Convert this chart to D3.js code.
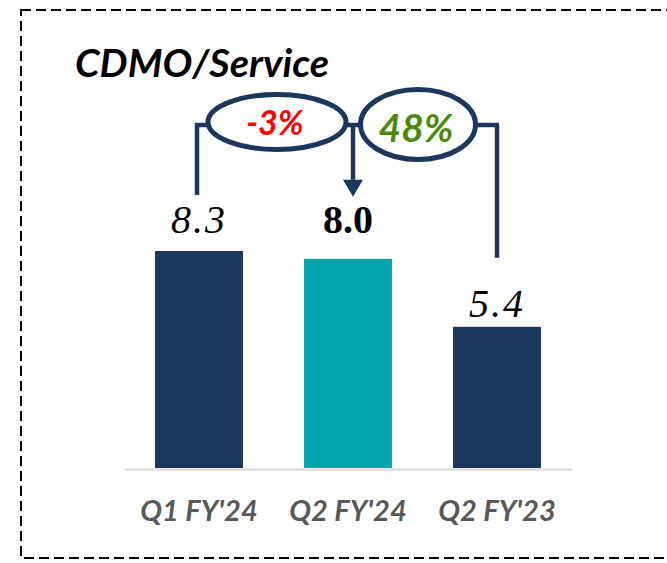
<!DOCTYPE html>
<html>
<head>
<meta charset="utf-8">
<script src="https://cdn.jsdelivr.net/npm/d3@7"></script>
<style>
  html, body { margin: 0; padding: 0; background: #ffffff; }
  svg { display: block; }
</style>
</head>
<body>
<svg id="chart" width="667" height="563"></svg>
<script>
// ---- data ----
const categories = ["Q1 FY'24", "Q2 FY'24", "Q2 FY'23"];
const values = [8.3, 8.0, 5.4];
const valueLabels = ["8.3", "8.0", "5.4"];
const changeLabels = ["-3%", "48%"];
const title = "CDMO/Service";

// ---- styles ----
const barColors = ["#1b375e", "#00a6ad", "#1b375e"];
const labelItalic = [true, false, true];
const labelBold = [false, true, false];
const changeColors = ["#ff0000", "#4d8a0c"];
const navy = "#1b375e";

const svg = d3.select("#chart");

// border (dashed, right edge off-canvas)
svg.append("rect")
  .attr("x", 21).attr("y", 10)
  .attr("width", 700).attr("height", 548)
  .attr("fill", "none")
  .attr("stroke", "#000")
  .attr("stroke-width", 2)
  .attr("stroke-dasharray", "10,5");

// scales
const x = d3.scaleBand()
  .domain(categories)
  .range([124.5, 571.5])
  .paddingInner(0.41)
  .paddingOuter(0.205);

const y = d3.scaleLinear()
  .domain([0, 8.3])
  .range([468, 251]);

// title
svg.append("text")
  .attr("x", 75).attr("y", 77)
  .attr("font-family", "Lato, 'Open Sans', sans-serif")
  .attr("font-weight", "bold")
  .attr("font-style", "italic")
  .attr("font-size", 39)
  .attr("textLength", 254)
  .attr("lengthAdjust", "spacingAndGlyphs")
  .attr("fill", "#000")
  .text(title);

// bars
svg.append("g").selectAll("rect")
  .data(values)
  .join("rect")
  .attr("x", (d, i) => x(categories[i]))
  .attr("y", d => y(d))
  .attr("width", x.bandwidth())
  .attr("height", d => y(0) - y(d))
  .attr("fill", (d, i) => barColors[i]);

// baseline axis
const xAxis = d3.axisBottom(x).tickSize(0).tickPadding(0);
const axisG = svg.append("g")
  .attr("transform", `translate(0,${y(0) + 1})`)
  .call(xAxis);
axisG.select(".domain").attr("stroke", "#d9d9d9").attr("stroke-width", 2);
axisG.selectAll(".tick text")
  .attr("dy", 0)
  .attr("y", 52)
  .attr("font-family", "Lato, 'Open Sans', sans-serif")
  .attr("font-weight", "bold")
  .attr("font-style", "italic")
  .attr("font-size", 29)
  .attr("fill", "#595959");

// value labels
const labelDy = [-18, -26, -10];
const labelY = values.map((d, i) => y(d) + labelDy[i]);
svg.append("g").selectAll("text")
  .data(valueLabels)
  .join("text")
  .attr("x", (d, i) => x(categories[i]) + x.bandwidth() / 2)
  .attr("y", (d, i) => labelY[i])
  .attr("text-anchor", "middle")
  .attr("font-family", "'Liberation Serif', 'Times New Roman', serif")
  .attr("font-size", 40)
  .attr("letter-spacing", (d, i) => labelItalic[i] ? 2 : 0)
  .attr("font-style", (d, i) => labelItalic[i] ? "italic" : "normal")
  .attr("font-weight", (d, i) => labelBold[i] ? "bold" : "normal")
  .attr("fill", "#000")
  .text(d => d);

// connectors
const cx = i => x(categories[i]) + x.bandwidth() / 2;
const lineY = 125;
const x0 = cx(0) - 2, x1 = cx(1) + 5, x2 = cx(2);
const conn = svg.append("g").attr("stroke", navy).attr("stroke-width", 4.5).attr("fill", "none");
conn.append("path")
  .attr("d", `M${x0},${labelY[0] - 38} V${lineY} H${x2 + 2}`);
conn.append("path")
  .attr("d", `M${x2},${lineY} V${labelY[2] - 59}`);
conn.append("path")
  .attr("d", `M${x1},${lineY} V${labelY[1] - 53}`);
svg.append("path")
  .attr("d", `M${x1 - 10},${labelY[1] - 53} L${x1 + 10},${labelY[1] - 53} L${x1},${labelY[1] - 36} Z`)
  .attr("fill", navy);

// ellipses
const ell = [
  { cx: 277, cy: 122, rx: 69, ry: 27.5 },
  { cx: 418, cy: 124.5, rx: 57.5, ry: 35 }
];
svg.append("g").selectAll("ellipse")
  .data(ell)
  .join("ellipse")
  .attr("cx", d => d.cx).attr("cy", d => d.cy)
  .attr("rx", d => d.rx).attr("ry", d => d.ry)
  .attr("fill", "#fff")
  .attr("stroke", navy)
  .attr("stroke-width", 5);

const changeSize = [34, 39];
const changeBase = [135, 142];
svg.append("g").selectAll("text")
  .data(changeLabels)
  .join("text")
  .attr("x", (d, i) => ell[i].cx - 2)
  .attr("y", (d, i) => changeBase[i])
  .attr("text-anchor", "middle")
  .attr("font-family", "Lato, 'Open Sans', sans-serif")
  .attr("font-weight", "bold")
  .attr("font-style", "italic")
  .attr("font-size", (d, i) => changeSize[i])
  .attr("fill", (d, i) => changeColors[i])
  .text(d => d);
</script>
</body>
</html>
